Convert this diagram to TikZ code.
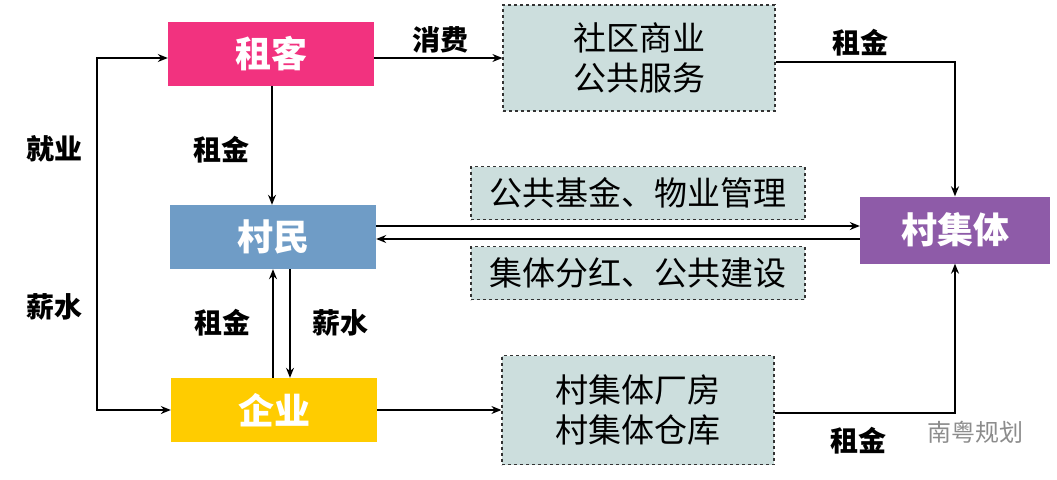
\documentclass[tikz,border=0pt]{standalone}
\usepackage{fontspec}
\setmainfont{Noto Sans CJK SC}
\usetikzlibrary{arrows.meta}
\definecolor{zukecolor}{HTML}{F2327F}
\definecolor{cunmincolor}{HTML}{6F9CC6}
\definecolor{jiticolor}{HTML}{8E5BA8}
\definecolor{qiyecolor}{HTML}{FFCC00}
\definecolor{dashcolor}{HTML}{CCDEDD}
\tikzset{
  mainbox/.style={minimum width=206pt,minimum height=64pt,text=white,font=\fontsize{36}{38}\selectfont\bfseries},
  dashbox/.style={draw=black!80,dashed,line width=1.2pt,fill=dashcolor,align=center,font=\fontsize{33}{40}\selectfont},
  flow/.style={line width=1.3pt,-{Stealth[length=10pt,width=8pt]}},
  lbl/.style={font=\fontsize{28}{30}\selectfont\bfseries}
}
\begin{document}
\begin{tikzpicture}[x=1pt,y=-1pt]
 \useasboundingbox (0,0) rectangle (1057,479);
 % boxes
 \node [mainbox,fill=zukecolor] (zuke) at (271,54) {租客};
 \node [mainbox,fill=cunmincolor] (cunmin) at (273,237) {村民};
 \node [mainbox,fill=qiyecolor] (qiye) at (274,410) {企业};
 \node [mainbox,fill=jiticolor,minimum width=190pt,minimum height=67pt] (jiti) at (955,230) {村集体};
 \node [dashbox,minimum width=272pt,minimum height=106pt] (shequ) at (639,58) {社区商业\\公共服务};
 \node [dashbox,minimum width=272pt,minimum height=109pt] (changfang) at (638,410) {村集体厂房\\村集体仓库};
 \node [dashbox,minimum width=334pt,minimum height=53pt] (jijin) at (638,193) {公共基金、物业管理};
 \node [dashbox,minimum width=334pt,minimum height=53pt] (fenhong) at (638,273) {集体分红、公共建设};
 % connectors
 \draw [flow] (zuke.east |- 0,58) -- (shequ.west |- 0,58);
 \draw [flow] (shequ.east |- 0,62) -| (jiti.north);
 \draw [flow] (zuke.south -| 272,0) -- (cunmin.north -| 272,0);
 \draw [flow] (cunmin.east |- 0,226) -- (jiti.west |- 0,226);
 \draw [flow] (jiti.west |- 0,239) -- (cunmin.east |- 0,239);
 \draw [flow] (qiye.north -| 273,0) -- (cunmin.south -| 273,0);
 \draw [flow] (cunmin.south -| 290,0) -- (qiye.north -| 290,0);
 \draw [flow] (qiye.east) -- (changfang.west);
 \draw [flow] (changfang.east |- 0,413) -| (jiti.south);
 \coordinate (lefttop) at (97,58);
 \coordinate (leftbottom) at (97,410);
 \draw [flow,{Stealth[length=10pt,width=8pt]}-{Stealth[length=10pt,width=8pt]}] (zuke.west |- lefttop) -- (lefttop) -- (leftbottom) -- (qiye.west);
 % labels
 \node [lbl] (xiaofei) at (440,40) {消费};
 \node [lbl] (zujin1) at (860,43) {租金};
 \node [lbl] (zujin2) at (221,150) {租金};
 \node [lbl] (zujin3) at (222,323) {租金};
 \node [lbl] (xinshui1) at (340,323) {薪水};
 \node [lbl] (zujin4) at (858,441) {租金};
 \node [lbl] (jiuye) at (55,149) {就业};
 \node [lbl] (xinshui2) at (55,307) {薪水};
 \node [font=\fontsize{24}{26}\selectfont,text=black!45] (mark) at (975,432) {南粤规划};
\end{tikzpicture}
\end{document}
